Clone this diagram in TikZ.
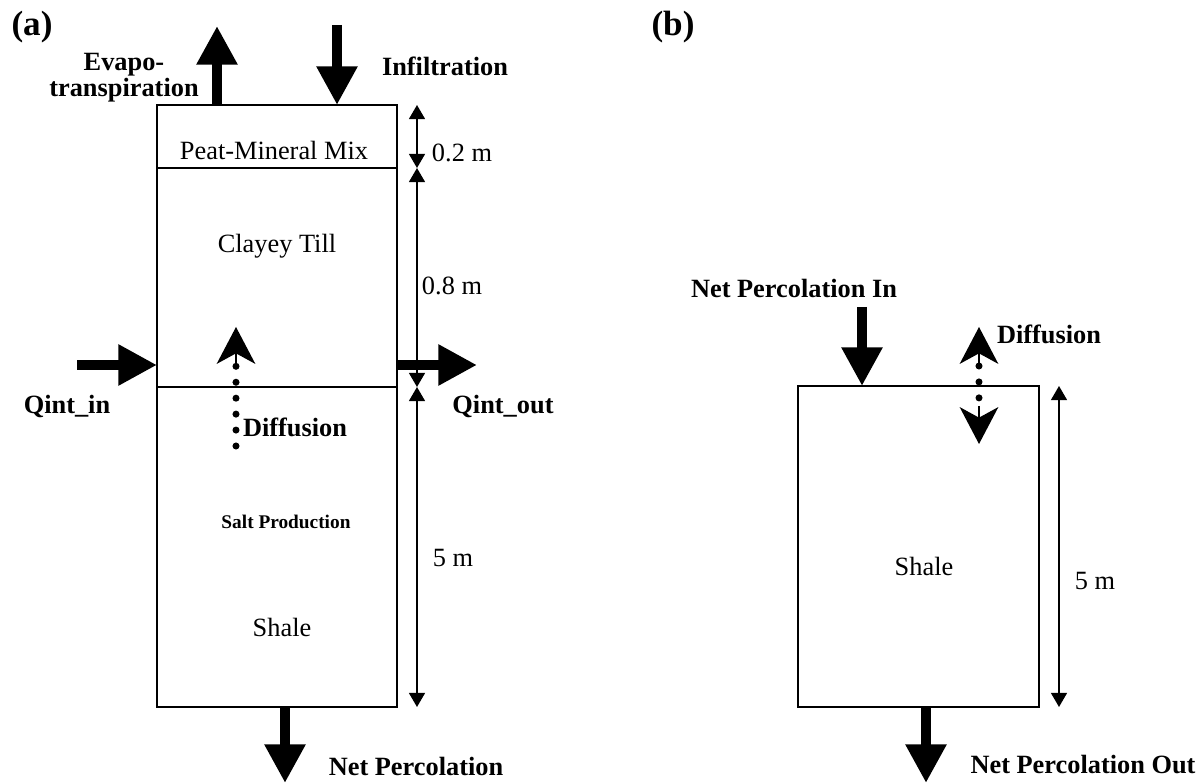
\documentclass[tikz,border=0pt]{standalone}
\usepackage{fontspec}
\setmainfont{Liberation Serif}
\usetikzlibrary{arrows.meta}

\tikzset{
  flux/.style={line width=5.7pt, -{Triangle[length=22pt,width=22pt]}},
  dimline/.style={line width=1.1pt, {Triangle[length=8pt,width=9pt]}-{Triangle[length=8pt,width=9pt]}},
  soilbox/.style={line width=1pt},
  diffdots/.style={line width=4pt, line cap=round, dash pattern=on 0pt off 9.07pt},
  diffhead/.style={line width=0.8pt, -{Stealth[length=21pt,width=22pt,inset=6pt]}},
  lbl/.style={font=\fontsize{15}{17}\selectfont, inner sep=0pt},
  flbl/.style={font=\bfseries\fontsize{15}{13}\selectfont, inner sep=0pt, align=center},
  panel/.style={font=\bfseries\fontsize{20}{22}\selectfont, inner sep=0pt},
}

\begin{document}
\begin{tikzpicture}[x=0.02cm, y=-0.02cm]
    \useasboundingbox (0,0) rectangle (1204,783);

    % panel (a): layered column
    \node[panel] (pa) at (32,27) {(a)};
    \draw[soilbox] (157,105) rectangle (397,707);
    \draw[soilbox] (157,168) -- (397,168);
    \draw[soilbox] (157,387) -- (397,387);
    \node[lbl] (peat) at (274,150) {Peat-Mineral Mix};
    \node[lbl] (till) at (277,246) {Clayey Till};
    \node[flbl, font=\bfseries\fontsize{11}{13}\selectfont] (salt) at (286,522) {Salt Production};
    \node[lbl] (shalea) at (282,627) {Shale};

    % thickness marks
    \coordinate (ta) at (417,105);
    \coordinate (tb) at (417,168);
    \coordinate (tc) at (417,387);
    \coordinate (td) at (417,707);
    \draw[dimline] (ta) -- (tb);
    \draw[dimline] (tb) -- (tc);
    \draw[dimline] (tc) -- (td);
    \node[lbl] (dpeat) at (462,153) {0.2 m};
    \node[lbl] (dtill) at (452,286) {0.8 m};
    \node[lbl] (dshalea) at (453,558) {5 m};

    % fluxes
    \coordinate (evfoot) at (217,105);
    \coordinate (evtip) at (217,26);
    \coordinate (intop) at (337,25);
    \coordinate (infoot) at (337,105);
    \coordinate (qinstart) at (77,365);
    \coordinate (qinend) at (157,365);
    \coordinate (qoutstart) at (397,365);
    \coordinate (qoutend) at (477,365);
    \coordinate (npstart) at (285,707);
    \coordinate (npend) at (285,783);
    \draw[flux] (evfoot) -- (evtip);
    \draw[flux] (intop) -- (infoot);
    \draw[flux] (qinstart) -- (qinend);
    \draw[flux] (qoutstart) -- (qoutend);
    \draw[flux] (npstart) -- (npend);
    \node[flbl] (evap) at (124,78) {Evapo-\\transpiration};
    \node[flbl] (infil) at (445,66) {Infiltration};
    \node[flbl] (qin) at (67,406) {Qint\_in};
    \node[flbl] (qout) at (503,406) {Qint\_out};
    \node[flbl] (netperc) at (416,766) {Net Percolation};

    % diffusion upward
    \coordinate (dfa) at (236,446);
    \coordinate (dfb) at (236,366);
    \coordinate (dftip) at (236,327);
    \draw[diffdots] (dfa) -- (dfb);
    \draw[diffhead] (dfb) -- (dftip);
    \node[flbl] (diffa) at (295,427) {Diffusion};

    % panel (b): shale only
    \node[panel] (pb) at (673,27) {(b)};
    \draw[soilbox] (798,386) rectangle (1039,707);
    \node[lbl] (shaleb) at (924,566) {Shale};
    \coordinate (sa) at (1059,386);
    \coordinate (sb) at (1059,707);
    \draw[dimline] (sa) -- (sb);
    \node[lbl] (dshaleb) at (1095,581) {5 m};

    \coordinate (nitop) at (862,307);
    \coordinate (nifoot) at (862,386);
    \coordinate (nostart) at (926,707);
    \coordinate (noend) at (926,783);
    \draw[flux] (nitop) -- (nifoot);
    \draw[flux] (nostart) -- (noend);
    \node[flbl] (netin) at (794,288) {Net Percolation In};
    \node[flbl] (netout) at (1083,765) {Net Percolation Out};

    % diffusion both ways
    \coordinate (dbtop) at (979,366);
    \coordinate (dbbot) at (979,406);
    \draw[diffdots] (dbtop) -- (979,413);
    \draw[diffhead] (dbtop) -- (979,327);
    \draw[diffhead] (dbbot) -- (979,444);
    \node[flbl] (diffb) at (1049,334) {Diffusion};
\end{tikzpicture}
\end{document}
